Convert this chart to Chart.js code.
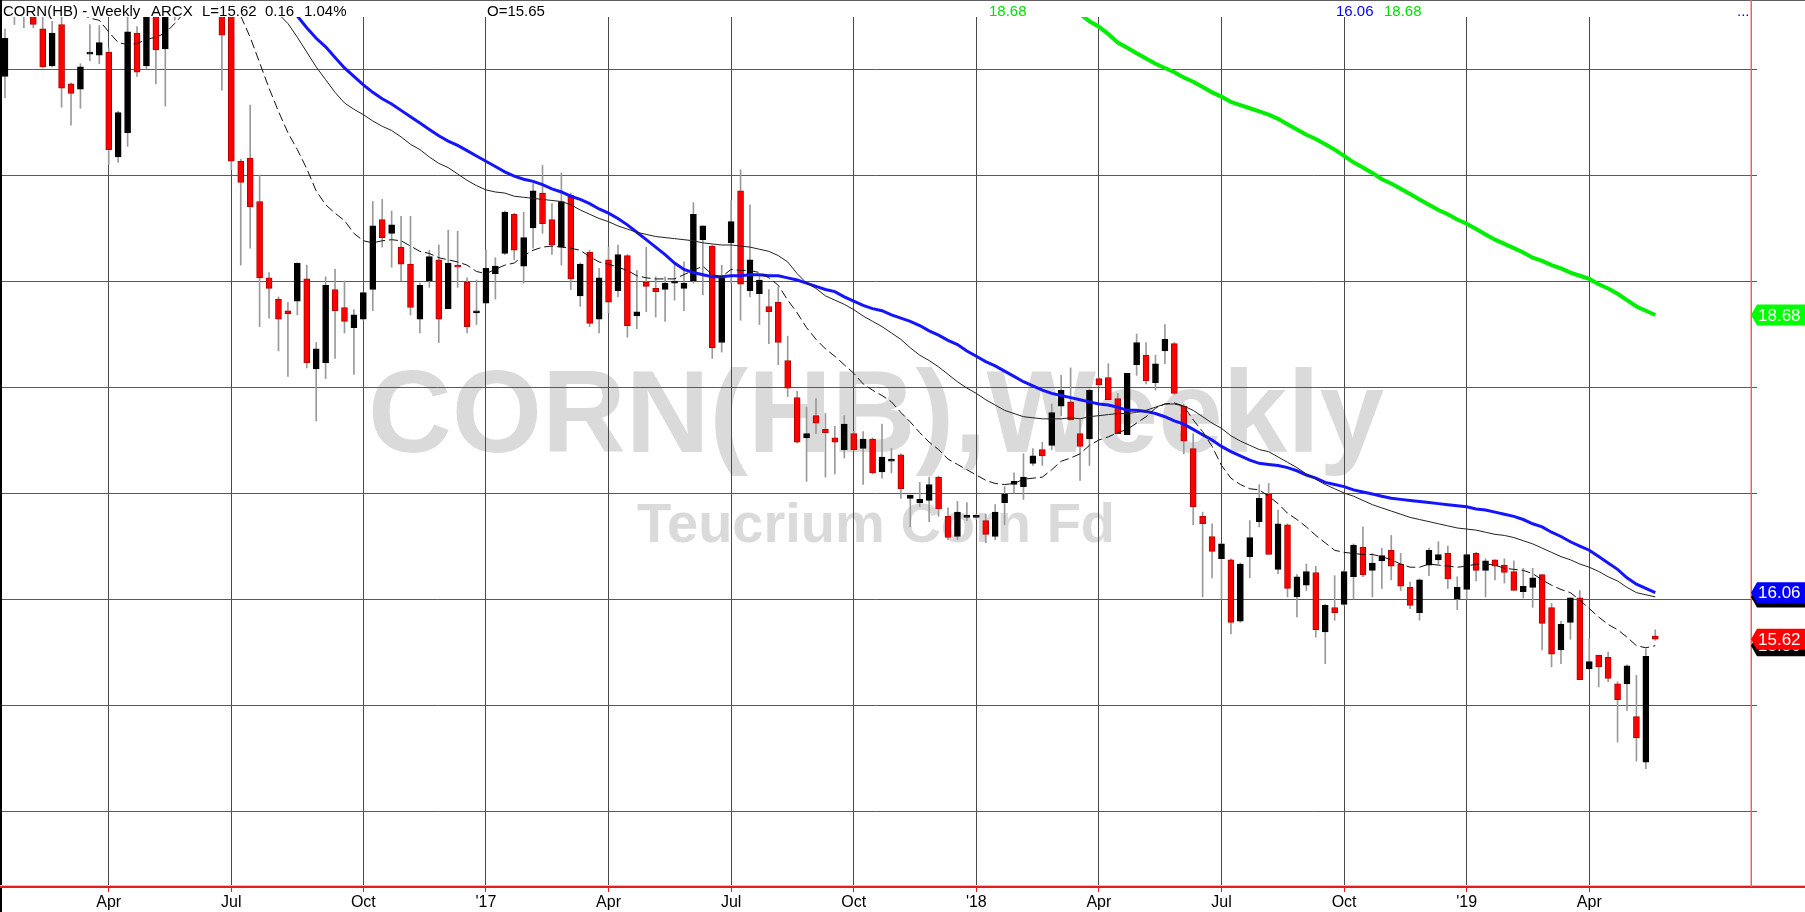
<!DOCTYPE html>
<html>
<head>
<meta charset="utf-8">
<script src="https://cdn.jsdelivr.net/npm/chart.js@4.4.1/dist/chart.umd.min.js"></script>
<style>
html,body{margin:0;padding:0;background:#fff;overflow:hidden;}
#wrap{position:relative;width:1805px;height:912px;}
canvas{display:block;}
</style>
</head>
<body>
<div id="wrap"><canvas id="c" width="1805" height="912"></canvas></div>
<script>
// ---- data (weekly, first candle = week ending Fri 2016-01-15) ----
const firstWeek = '2016-01-15';
const quarterStarts = ['2016-04-01','2016-07-01','2016-10-01','2017-01-01','2017-04-01','2017-07-01','2017-10-01','2018-01-01','2018-04-01','2018-07-01','2018-10-01','2019-01-01','2019-04-01'];
const tickLabels = ['Apr','Jul','Oct',"'17",'Apr','Jul','Oct',"'18",'Apr','Jul','Oct',"'19",'Apr'];
const gridPrices = [14,15,16,17,18,19,20,21];

const opens = [20.93,21.75,21.56,21.62,21.38,21.03,21.42,20.86,20.81,21.14,
21.13,21.16,20.17,20.40,21.34,21.03,21.65,21.19,21.75,21.95,
22.40,22.90,22.50,21.90,21.55,20.13,20.16,19.75,19.03,18.83,
18.72,18.81,19.02,18.17,18.23,18.92,18.75,18.56,18.64,18.92,
19.58,19.45,19.32,19.16,18.64,19.00,19.20,18.74,19.15,18.99,
18.70,18.79,19.07,19.26,19.63,19.14,19.50,19.83,19.58,19.32,
19.81,18.86,19.27,18.64,19.20,18.91,19.24,18.67,18.99,18.93,
18.92,18.98,18.93,19.00,19.39,19.33,18.42,19.36,19.85,18.91,
18.88,18.76,18.80,18.25,17.90,17.52,17.73,17.60,17.52,17.41,
17.56,17.42,17.51,17.20,17.30,17.36,16.95,16.91,16.93,17.15,
16.78,16.59,16.77,16.77,16.74,16.59,16.91,17.08,17.06,17.28,
17.41,17.45,17.82,17.86,17.56,17.51,18.08,18.09,17.89,17.55,
18.21,18.30,18.04,18.34,18.41,17.82,17.42,16.78,16.59,16.38,
16.37,15.79,16.40,16.73,16.99,16.28,16.70,16.02,16.13,16.25,
15.69,15.92,15.95,16.21,16.49,16.27,16.36,16.46,16.33,16.11,
15.87,16.32,16.37,16.43,16.00,16.09,16.43,16.27,16.37,16.32,
16.26,16.07,16.11,16.23,15.92,15.52,15.78,16.01,15.34,15.47,
15.45,15.20,15.20,14.89,14.46,15.65];
const highs = [21.38,21.85,21.80,21.70,21.55,21.45,21.55,20.87,21.05,21.42,
21.41,21.20,20.60,21.55,21.40,21.70,21.80,21.90,22.10,22.50,
23.10,23.40,22.70,22.20,21.70,20.15,20.66,20.00,19.08,18.85,
18.80,19.17,19.15,18.42,19.04,19.11,19.00,18.73,18.90,19.75,
19.77,19.66,19.61,19.61,18.98,19.29,19.34,19.48,19.47,19.03,
19.01,19.29,19.22,19.66,19.64,19.65,19.92,20.09,19.73,20.02,
19.83,19.17,19.29,19.12,19.32,19.34,19.25,19.10,19.32,19.04,
19.04,19.17,19.18,19.74,19.52,19.34,19.15,19.76,20.05,19.72,
19.06,18.92,18.94,18.48,17.96,17.81,17.89,17.75,17.63,17.73,
17.58,17.58,17.52,17.65,17.42,17.37,16.98,17.10,17.15,17.16,
16.86,16.92,16.91,16.80,16.80,16.89,17.06,17.19,17.37,17.42,
17.48,17.84,18.11,18.18,17.69,17.98,18.09,18.22,17.94,18.13,
18.50,18.42,18.30,18.59,18.42,17.84,17.56,16.82,16.71,16.52,
16.38,16.34,16.74,17.08,17.09,16.84,16.71,16.23,16.33,16.31,
15.95,16.22,16.27,16.52,16.68,16.43,16.48,16.60,16.43,16.16,
16.19,16.48,16.54,16.50,16.21,16.42,16.44,16.38,16.37,16.38,
16.36,16.29,16.29,16.23,15.96,15.79,16.01,16.08,15.63,15.47,
15.50,15.22,15.38,15.28,15.53,15.71];
const lows = [20.73,21.42,21.39,21.39,21.01,21.02,20.64,20.47,20.63,21.08,
21.05,20.10,20.12,20.27,20.93,21.00,20.86,20.65,21.46,21.70,
22.20,22.30,21.80,20.80,20.05,19.15,19.31,18.57,18.65,18.34,
18.10,18.68,18.18,17.68,18.08,18.27,18.51,18.12,18.63,18.72,
19.32,19.13,19.00,18.68,18.51,18.94,18.42,18.74,18.94,18.51,
18.59,18.79,18.83,19.25,19.20,18.98,19.31,19.45,19.25,19.15,
18.92,18.76,18.57,18.51,18.70,18.85,18.47,18.55,18.71,18.66,
18.62,18.82,18.72,18.98,18.87,18.27,18.33,18.98,18.63,18.85,
18.59,18.41,18.21,17.91,17.47,17.11,17.56,17.15,17.18,17.33,
17.40,17.08,17.18,17.14,17.19,16.95,16.68,16.87,16.73,16.78,
16.56,16.56,16.74,16.75,16.53,16.56,16.70,17.00,16.94,17.26,
17.26,17.41,17.73,17.69,17.12,17.26,18.01,17.88,17.56,17.55,
18.11,18.03,17.97,18.22,17.93,17.37,16.70,16.02,16.20,16.00,
15.67,15.78,16.20,16.68,16.42,16.24,16.02,15.83,16.08,15.64,
15.39,15.80,15.94,16.00,16.21,16.02,16.10,16.18,16.08,15.91,
15.80,16.22,16.33,16.10,15.90,16.00,16.17,16.02,16.18,16.15,
16.08,16.01,15.92,15.52,15.36,15.39,15.62,15.24,15.34,15.17,
15.22,14.65,14.95,14.47,14.40,15.61];
const closes = [21.29,21.58,21.70,21.42,21.02,21.34,20.82,20.77,21.02,21.15,
21.25,20.24,20.59,21.35,20.97,21.60,21.18,21.70,21.95,22.40,
22.90,22.50,21.95,21.32,20.13,19.93,19.70,19.03,18.93,18.64,
18.69,19.17,18.23,18.36,18.96,18.72,18.62,18.68,18.89,19.52,
19.41,19.53,19.16,18.75,18.96,19.23,18.64,19.17,19.13,18.57,
18.72,19.12,19.14,19.65,19.29,19.41,19.85,19.54,19.34,19.75,
19.02,19.16,18.60,19.03,18.80,19.25,18.58,18.71,18.95,18.90,
18.98,19.00,18.98,19.63,19.52,18.37,19.03,19.56,18.97,19.20,
19.01,18.71,18.42,17.99,17.48,17.56,17.66,17.57,17.48,17.65,
17.41,17.51,17.19,17.34,17.32,17.04,16.98,16.94,17.08,16.85,
16.58,16.82,16.78,16.77,16.61,16.82,16.99,17.11,17.15,17.35,
17.35,17.76,17.97,17.69,17.44,17.97,18.02,17.88,17.56,18.13,
18.42,18.06,18.22,18.45,17.94,17.49,16.87,16.71,16.45,16.52,
15.78,16.33,16.58,16.95,16.42,16.71,16.10,16.21,16.26,15.71,
15.94,15.87,16.26,16.51,16.23,16.34,16.41,16.31,16.12,15.94,
16.18,16.46,16.42,16.19,16.11,16.42,16.27,16.36,16.31,16.25,
16.08,16.12,16.20,15.77,15.48,15.76,16.01,15.24,15.41,15.36,
15.25,15.05,15.37,14.69,15.46,15.62];

// moving averages (value per week, starting at given week index)
const ma10aStart = 8;
const ma10a = [21.52,21.48,21.46,21.35,21.25,21.23,21.24,21.28,21.30,21.34,21.43,21.53];
const ma10bStart = 25;
const ma10b = [21.50,21.30,21.06,20.82,20.60,20.40,20.24,20.06,19.85,19.72,
19.64,19.57,19.45,19.38,19.36,19.38,19.39,19.38,19.33,19.28,
19.26,19.22,19.20,19.18,19.15,19.09,19.07,19.11,19.15,19.17,
19.24,19.29,19.32,19.33,19.32,19.31,19.29,19.23,19.18,19.16,
19.13,19.10,19.05,19.03,19.02,19.02,19.02,19.06,19.10,19.14,
19.06,19.04,19.11,19.10,19.10,19.08,19.03,18.96,18.82,18.70,
18.56,18.45,18.36,18.29,18.21,18.13,18.03,17.97,17.92,17.86,
17.76,17.67,17.57,17.48,17.41,17.32,17.27,17.22,17.17,17.12,
17.09,17.08,17.09,17.13,17.14,17.15,17.22,17.30,17.33,17.37,
17.45,17.50,17.53,17.57,17.60,17.66,17.72,17.80,17.84,17.85,
17.82,17.69,17.58,17.44,17.26,17.14,17.08,17.04,17.03,16.97,
16.90,16.81,16.75,16.68,16.60,16.53,16.46,16.44,16.43,16.42,
16.42,16.40,16.37,16.33,16.30,16.30,16.33,16.32,16.31,16.30,
16.31,16.33,16.33,16.32,16.29,16.28,16.27,16.24,16.18,16.13,
16.09,16.06,15.99,15.91,15.83,15.76,15.71,15.64,15.56,15.54,
15.56];
const ma20Start = 29;
const ma20 = [21.52,21.43,21.30,21.16,21.02,20.90,20.78,20.68,20.62,20.57,
20.51,20.46,20.42,20.36,20.29,20.24,20.17,20.11,20.07,20.01,
19.95,19.90,19.86,19.84,19.83,19.80,19.79,19.78,19.77,19.76,
19.75,19.72,19.67,19.63,19.59,19.56,19.52,19.49,19.46,19.44,
19.42,19.41,19.40,19.39,19.38,19.36,19.35,19.34,19.34,19.33,
19.32,19.30,19.28,19.24,19.18,19.07,18.98,18.93,18.86,18.82,
18.78,18.73,18.67,18.62,18.57,18.51,18.45,18.37,18.30,18.25,
18.19,18.12,18.05,17.99,17.94,17.88,17.83,17.78,17.75,17.72,
17.71,17.70,17.70,17.70,17.71,17.70,17.72,17.73,17.74,17.75,
17.75,17.76,17.78,17.81,17.84,17.84,17.82,17.78,17.72,17.66,
17.61,17.54,17.49,17.45,17.41,17.39,17.34,17.29,17.24,17.18,
17.13,17.08,17.04,17.00,16.97,16.93,16.89,16.86,16.83,16.80,
16.77,16.75,16.73,16.71,16.69,16.67,16.66,16.65,16.63,16.61,
16.60,16.58,16.55,16.52,16.48,16.44,16.40,16.37,16.33,16.30,
16.26,16.21,16.17,16.11,16.06,16.04,16.02];
const ma50Start = 31;
const ma50 = [21.50,21.39,21.29,21.21,21.11,21.01,20.93,20.85,20.78,20.72,
20.67,20.61,20.55,20.49,20.43,20.37,20.32,20.28,20.23,20.18,
20.13,20.08,20.03,19.99,19.96,19.94,19.91,19.87,19.84,19.80,
19.77,19.73,19.68,19.64,19.59,19.53,19.46,19.39,19.32,19.25,
19.17,19.11,19.08,19.06,19.04,19.04,19.05,19.05,19.06,19.06,
19.05,19.05,19.03,19.01,18.98,18.95,18.92,18.90,18.85,18.81,
18.77,18.74,18.72,18.68,18.65,18.62,18.58,18.53,18.49,18.44,
18.40,18.34,18.29,18.24,18.20,18.15,18.10,18.05,18.01,17.97,
17.94,17.92,17.90,17.88,17.86,17.84,17.83,17.81,17.78,17.78,
17.77,17.75,17.72,17.68,17.65,17.60,17.55,17.50,17.44,17.39,
17.35,17.31,17.28,17.27,17.26,17.24,17.21,17.17,17.14,17.10,
17.08,17.06,17.03,17.01,16.99,16.97,16.95,16.94,16.93,16.92,
16.91,16.90,16.89,16.88,16.87,16.85,16.84,16.82,16.80,16.78,
16.75,16.71,16.68,16.63,16.59,16.54,16.50,16.46,16.40,16.34,
16.28,16.20,16.14,16.10,16.06];
const ma200Start = 114;
const ma200 = [21.52,21.45,21.40,21.33,21.25,21.20,21.15,21.10,21.05,21.01,
20.97,20.92,20.88,20.83,20.78,20.74,20.69,20.66,20.63,20.60,
20.57,20.53,20.48,20.43,20.38,20.34,20.29,20.24,20.18,20.12,
20.07,20.02,19.96,19.92,19.87,19.82,19.77,19.72,19.67,19.63,
19.58,19.54,19.49,19.44,19.39,19.35,19.31,19.27,19.22,19.19,
19.15,19.12,19.08,19.05,19.02,18.97,18.93,18.88,18.82,18.76,
18.72,18.68];

// ---- build ----
const DAY = 86400000;
const w0 = Date.parse(firstWeek);
const tickWeeks = quarterStarts.map(d => Math.ceil((Date.parse(d) - w0) / (7 * DAY)));
const RED = '#ff0000', BLK = '#000000';
const bodyColors = closes.map((c, i) => c < opens[i] ? RED : BLK);
const bodyBorders = closes.map((c, i) => c < opens[i] ? '#b00000' : BLK);
const seg = (start, arr) => arr.map((v, k) => ({x: start + k, y: v}));
const FONT = '"Liberation Sans", Arial, sans-serif';

const lineBase = {type:'line', pointRadius:0, fill:false, tension:0, order:1};

const deco = {
  id: 'deco',
  beforeDraw(chart) {
    const ctx = chart.ctx;
    ctx.save();
    ctx.fillStyle = '#ffffff';
    ctx.fillRect(0, 0, chart.width, chart.height);
    ctx.fillStyle = '#dadada';
    ctx.textAlign = 'center';
    ctx.textBaseline = 'alphabetic';
    ctx.font = 'bold 116px ' + FONT;
    ctx.fillText('CORN(HB),Weekly', 876, 452);
    ctx.font = 'bold 56px ' + FONT;
    ctx.fillText('Teucrium Corn Fd', 876, 542);
    ctx.restore();
  },
  afterDraw(chart) {
    const ctx = chart.ctx;
    const a = chart.chartArea;
    const ys = chart.scales.y;
    ctx.save();
    // frame lines
    ctx.fillStyle = '#606060';
    ctx.fillRect(0, 0, chart.width, 1);
    ctx.fillStyle = '#000';
    ctx.fillRect(0, 0, 2, chart.height);
    ctx.fillStyle = '#f5b5b5';
    ctx.fillRect(0, a.bottom - 2, chart.width, 1);
    ctx.fillStyle = '#e02020';
    ctx.fillRect(0, a.bottom - 1, chart.width, 2);
    ctx.fillStyle = '#f06060';
    ctx.fillRect(a.right - 0.5, 0, 1.5, a.bottom);
    // header
    ctx.textBaseline = 'alphabetic';
    ctx.textAlign = 'left';
    ctx.font = '15px ' + FONT;
    const hdr = [
      ['CORN(HB) - Weekly', 3, '#000'], ['ARCX', 151, '#000'], ['L=15.62', 202, '#000'],
      ['0.16', 265, '#000'], ['1.04%', 304, '#000'], ['O=15.65', 487, '#000'],
      ['18.68', 989, '#00e000'], ['16.06', 1336, '#0000ff'], ['18.68', 1384, '#00e000'], ['...', 1737, '#0000ff']
    ];
    hdr.forEach(([t, x, c]) => { ctx.fillStyle = c; ctx.fillText(t, x, 16); });
    // price tags
    const tag = (val, bg) => {
      const y = ys.getPixelForValue(val);
      const x0 = a.right, h = 21;
      ctx.fillStyle = bg;
      ctx.beginPath();
      ctx.moveTo(x0, y);
      ctx.lineTo(x0 + 6, y - h / 2);
      ctx.lineTo(chart.width, y - h / 2);
      ctx.lineTo(chart.width, y + h / 2);
      ctx.lineTo(x0 + 6, y + h / 2);
      ctx.closePath();
      ctx.fill();
      ctx.fillStyle = '#ffffff';
      ctx.font = '17px ' + FONT;
      ctx.textBaseline = 'middle';
      ctx.fillText(val.toFixed(2), x0 + 7, y + 1);
    };
    tag(ma20[ma20.length - 1], '#000000');
    tag(ma10b[ma10b.length - 1], '#000000');
    tag(ma50[ma50.length - 1], '#0000ff');
    tag(closes[closes.length - 1], '#ff0000');
    tag(ma200[ma200.length - 1], '#00ff00');
    ctx.restore();
  }
};

new Chart(document.getElementById('c'), {
  data: {
    datasets: [
      {type:'bar', data: lows.map((l, i) => ({x: i, y: [l, highs[i]]})), backgroundColor:'#9a9a9a', barThickness:1, grouped:false, order:3},
      {type:'bar', data: opens.map((o, i) => ({x: i, y: [o, closes[i]]})), backgroundColor: bodyColors, borderColor: bodyBorders, borderWidth:1, borderSkipped:false, barThickness:6, grouped:false, minBarLength:2, order:2},
      {...lineBase, data: seg(ma10aStart, ma10a), borderColor:'#111', borderWidth:1, borderDash:[9,4]},
      {...lineBase, data: seg(ma10bStart, ma10b), borderColor:'#111', borderWidth:1, borderDash:[9,4]},
      {...lineBase, data: seg(ma20Start, ma20), borderColor:'#222', borderWidth:1},
      {...lineBase, data: seg(ma50Start, ma50), borderColor:'#1414ff', borderWidth:3},
      {...lineBase, data: seg(ma200Start, ma200), borderColor:'#00ee00', borderWidth:4}
    ]
  },
  options: {
    responsive:false, animation:false, devicePixelRatio:1,
    layout:{padding:{top:17, right:54, left:0, bottom:0}},
    plugins:{legend:{display:false}, tooltip:{enabled:false}},
    scales:{
      x:{type:'linear', min:-0.53, max:185.15, offset:false,
        afterBuildTicks: s => { s.ticks = tickWeeks.map(v => ({value:v})); },
        afterFit: s => { s.height = 25; },
        ticks:{autoSkip:false, maxRotation:0, minRotation:0, padding:1, color:'#000', font:{family:FONT, size:16}, callback:(v, idx) => tickLabels[idx]},
        grid:{color:'#4a4a4a', lineWidth:1, tickLength:5, tickColor:'#e02020', offset:false, drawTicks:true},
        border:{display:false}
      },
      y:{type:'linear', position:'right', min:13.283, max:21.491,
        afterBuildTicks: s => { s.ticks = gridPrices.map(v => ({value:v})); },
        afterFit: s => { s.width = 0; },
        ticks:{display:false},
        grid:{color:'#5a5a5a', lineWidth:1, tickLength:6, tickColor:'#e02020', drawTicks:true},
        border:{display:false}
      }
    }
  },
  plugins:[deco]
});
</script>
</body>
</html>
